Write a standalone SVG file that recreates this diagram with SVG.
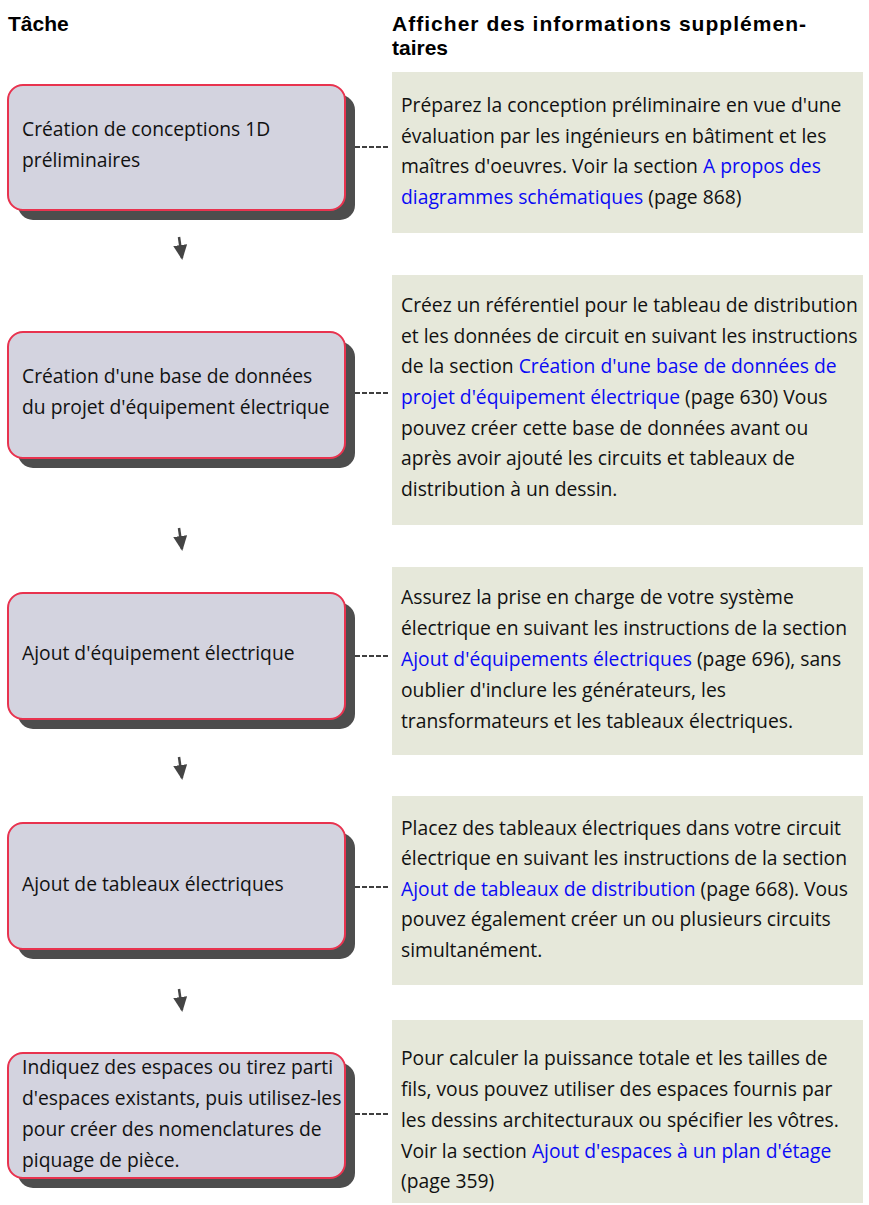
<svg xmlns="http://www.w3.org/2000/svg" width="869" height="1205" viewBox="0 0 869 1205">
<style>
  .hdr{font-family:"Liberation Sans",Arial,sans-serif;font-weight:bold;font-size:21px;fill:#000}
  .t{font-family:"Open Sans","Noto Sans",sans-serif;font-size:19.3px;fill:#111}
  .lnk{fill:#0a0af5}
  .box{fill:#d3d3df;stroke:#e8334f;stroke-width:2}
  .shadow{fill:#4d4d4d}
  .note{fill:#e6e8da}
  .conn{stroke:#000;stroke-width:1.3;stroke-dasharray:5,2;fill:none}
  .arr{stroke:#444;stroke-width:2.5;fill:none}
</style>
<defs>
  <marker id="ah" markerWidth="16" markerHeight="16" refX="13" refY="8" orient="auto" markerUnits="userSpaceOnUse">
    <path d="M0,1 L15,8 L0,15 z" fill="#444"/>
  </marker>
</defs>
<rect width="869" height="1205" fill="#fff"/>

<g id="headers">
  <text class="hdr" x="8" y="31">Tâche</text>
  <text class="hdr" x="392" y="31" textLength="414" lengthAdjust="spacing">Afficher des informations supplémen-</text>
  <text class="hdr" x="392" y="54.5">taires</text>
</g>

<g id="connectors">
  <line class="conn" x1="355" y1="147" x2="390" y2="147"/>
  <line class="conn" x1="355" y1="393" x2="390" y2="393"/>
  <line class="conn" x1="355" y1="656" x2="390" y2="656"/>
  <line class="conn" x1="355" y1="887" x2="390" y2="887"/>
  <line class="conn" x1="355" y1="1114" x2="390" y2="1114"/>
  <path class="arr" d="M179,237 L182,258" marker-end="url(#ah)"/>
  <path class="arr" d="M179,528 L182,549" marker-end="url(#ah)"/>
  <path class="arr" d="M179,757 L182,778" marker-end="url(#ah)"/>
  <path class="arr" d="M179,989 L182,1010" marker-end="url(#ah)"/>
</g>

<g id="task1">
  <rect class="shadow" x="18" y="95" width="337" height="125" rx="15"/>
  <rect class="box" x="8" y="85" width="337" height="125" rx="15"/>
  <text class="t" x="22" y="136">Création de conceptions 1D</text>
  <text class="t" x="22" y="167">préliminaires</text>
</g>
<g id="note1">
  <rect class="note" x="392" y="72" width="471" height="161"/>
  <text class="t" x="401" y="112">Préparez la conception préliminaire en vue d'une</text>
  <text class="t" x="401" y="143">évaluation par les ingénieurs en bâtiment et les</text>
  <text class="t" x="401" y="173">maîtres d'oeuvres. Voir la section <tspan class="lnk">A propos des</tspan></text>
  <text class="t" x="401" y="204"><tspan class="lnk">diagrammes schématiques</tspan> (page 868)</text>
</g>

<g id="task2">
  <rect class="shadow" x="18" y="342" width="337" height="126" rx="15"/>
  <rect class="box" x="8" y="332" width="337" height="126" rx="15"/>
  <text class="t" x="22" y="383">Création d'une base de données</text>
  <text class="t" x="22" y="414">du projet d'équipement électrique</text>
</g>
<g id="note2">
  <rect class="note" x="392" y="275" width="471" height="250"/>
  <text class="t" x="401" y="312">Créez un référentiel pour le tableau de distribution</text>
  <text class="t" x="401" y="343">et les données de circuit en suivant les instructions</text>
  <text class="t" x="401" y="373">de la section <tspan class="lnk">Création d'une base de données de</tspan></text>
  <text class="t" x="401" y="404"><tspan class="lnk">projet d'équipement électrique</tspan> (page 630) Vous</text>
  <text class="t" x="401" y="435">pouvez créer cette base de données avant ou</text>
  <text class="t" x="401" y="465">après avoir ajouté les circuits et tableaux de</text>
  <text class="t" x="401" y="496">distribution à un dessin.</text>
</g>

<g id="task3">
  <rect class="shadow" x="18" y="603" width="337" height="126" rx="15"/>
  <rect class="box" x="8" y="593" width="337" height="126" rx="15"/>
  <text class="t" x="22" y="660">Ajout d'équipement électrique</text>
</g>
<g id="note3">
  <rect class="note" x="392" y="567" width="471" height="188"/>
  <text class="t" x="401" y="604">Assurez la prise en charge de votre système</text>
  <text class="t" x="401" y="635">électrique en suivant les instructions de la section</text>
  <text class="t" x="401" y="666"><tspan class="lnk">Ajout d'équipements électriques</tspan> (page 696), sans</text>
  <text class="t" x="401" y="697">oublier d'inclure les générateurs, les</text>
  <text class="t" x="401" y="728">transformateurs et les tableaux électriques.</text>
</g>

<g id="task4">
  <rect class="shadow" x="18" y="833" width="337" height="126" rx="15"/>
  <rect class="box" x="8" y="823" width="337" height="126" rx="15"/>
  <text class="t" x="22" y="891">Ajout de tableaux électriques</text>
</g>
<g id="note4">
  <rect class="note" x="392" y="796" width="471" height="189"/>
  <text class="t" x="401" y="835">Placez des tableaux électriques dans votre circuit</text>
  <text class="t" x="401" y="865">électrique en suivant les instructions de la section</text>
  <text class="t" x="401" y="896"><tspan class="lnk">Ajout de tableaux de distribution</tspan> (page 668). Vous</text>
  <text class="t" x="401" y="926">pouvez également créer un ou plusieurs circuits</text>
  <text class="t" x="401" y="957">simultanément.</text>
</g>

<g id="task5">
  <rect class="shadow" x="18" y="1063" width="337" height="125" rx="15"/>
  <rect class="box" x="8" y="1053" width="337" height="125" rx="15"/>
  <text class="t" x="22" y="1074">Indiquez des espaces ou tirez parti</text>
  <text class="t" x="22" y="1105">d'espaces existants, puis utilisez-les</text>
  <text class="t" x="22" y="1136">pour créer des nomenclatures de</text>
  <text class="t" x="22" y="1167">piquage de pièce.</text>
</g>
<g id="note5">
  <rect class="note" x="392" y="1020" width="471" height="183"/>
  <text class="t" x="401" y="1065">Pour calculer la puissance totale et les tailles de</text>
  <text class="t" x="401" y="1096">fils, vous pouvez utiliser des espaces fournis par</text>
  <text class="t" x="401" y="1127">les dessins architecturaux ou spécifier les vôtres.</text>
  <text class="t" x="401" y="1158">Voir la section <tspan class="lnk">Ajout d'espaces à un plan d'étage</tspan></text>
  <text class="t" x="401" y="1188">(page 359)</text>
</g>
</svg>
